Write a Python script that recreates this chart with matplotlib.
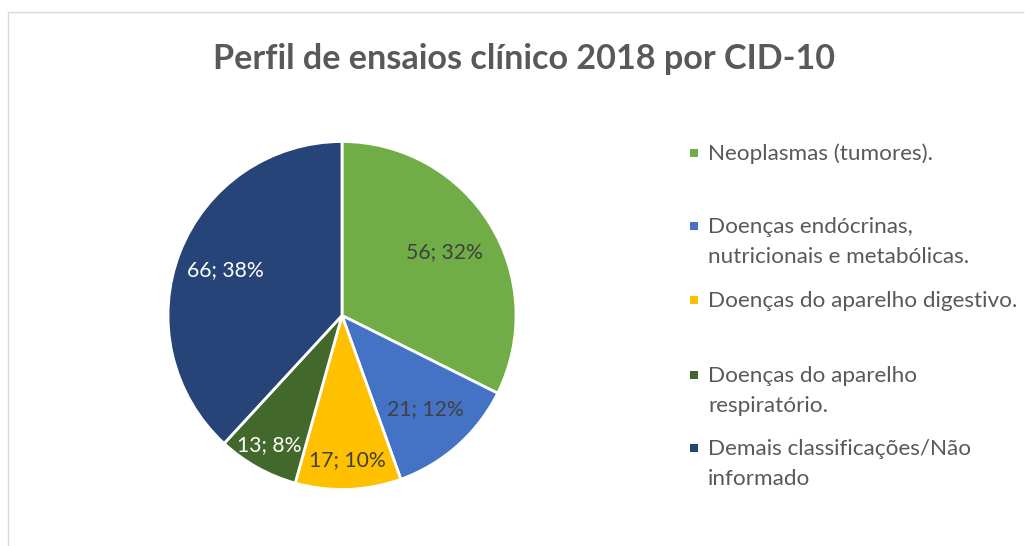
import matplotlib
matplotlib.use("Agg")
import matplotlib.pyplot as plt
import numpy as np
from matplotlib.patches import Rectangle
from matplotlib.lines import Line2D

# ---- data ----
categories = [
    "Neoplasmas (tumores).",
    "Doenças endócrinas,\nnutricionais e metabólicas.",
    "Doenças do aparelho digestivo.",
    "Doenças do aparelho\nrespiratório.",
    "Demais classificações/Não\ninformado",
]
values = [56, 21, 17, 13, 66]
percent_labels = ["32%", "12%", "10%", "8%", "38%"]
colors = ["#70AD47", "#4472C4", "#FFC000", "#43682B", "#264478"]
label_colors = ["#404040", "#404040", "#404040", "#FFFFFF", "#FFFFFF"]
label_dist = [0.69, 0.72, 0.83, 0.855, 0.72]
title = "Perfil de ensaios clínico 2018 por CID-10"

plt.rcParams['font.family'] = ['Lato', 'DejaVu Sans']

W, H = 1025, 546
fig = plt.figure(figsize=(W / 100, H / 100), dpi=100)
fig.patch.set_facecolor("white")

# chart border (light gray)
fig.add_artist(Line2D([8 / W, 8 / W], [0, 1 - 12 / H], color="#D9D9D9", lw=1.0,
                      transform=fig.transFigure))
fig.add_artist(Line2D([8 / W, 1023 / W], [1 - 12 / H, 1 - 12 / H], color="#D9D9D9", lw=1.0,
                      transform=fig.transFigure))

# pie axes
cx, cy, r = 342, 315.5, 174
ax = fig.add_axes([(cx - r) / W, (H - cy - r) / H, 2 * r / W, 2 * r / H])
wedges, _ = ax.pie(values, colors=colors, startangle=90, counterclock=False,
                   radius=1.0, wedgeprops=dict(edgecolor="white", linewidth=2.0))
ax.set_xlim(-1, 1)
ax.set_ylim(-1, 1)
ax.set_aspect("equal")
ax.axis("off")

for w, v, p, c, d in zip(wedges, values, percent_labels, label_colors, label_dist):
    ang = np.deg2rad((w.theta1 + w.theta2) / 2)
    ax.text(d * np.cos(ang), d * np.sin(ang), f"{v}; {p}", ha="center", va="center",
            fontsize=15.2, color=c)

# title
fig.text(524 / W, 1 - 69 / H, title, ha="center", va="baseline",
         fontsize=24.6, fontweight="bold", color="#595959")

# legend (manual)
baselines = [[160], [233, 263], [307], [382, 412], [455, 485]]
for lab, col, bl in zip(categories, colors, baselines):
    lines = lab.split("\n")
    fig.add_artist(Rectangle((690 / W, 1 - (bl[0] - 3) / H), 8 / W, 8 / H,
                             transform=fig.transFigure, facecolor=col, edgecolor="none"))
    for line, b in zip(lines, bl):
        fig.text(708 / W, 1 - b / H, line, ha="left", va="baseline",
                 fontsize=16.2, color="#595959")

fig.savefig("out.png", dpi=100, facecolor="white")
